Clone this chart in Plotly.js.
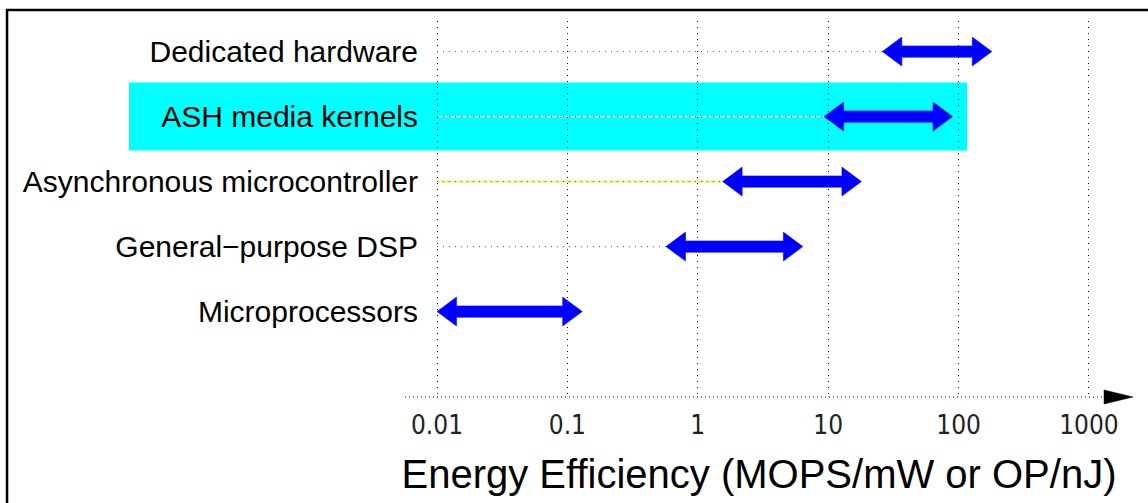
<!DOCTYPE html>
<html><head><meta charset="utf-8">
<script src="https://cdn.plot.ly/plotly-3.0.1.min.js"></script>
<style>html,body{margin:0;padding:0;background:#fff;overflow:hidden}</style>
</head><body>
<div id="chart" style="width:1148px;height:503px"></div>
<script>
// ---- data ----
const categories = ['Microprocessors', 'General\u2212purpose DSP', 'Asynchronous microcontroller', 'ASH media kernels', 'Dedicated hardware'];
const rangeLow  = [0.01, 0.57, 1.55, 9.3, 26];
const rangeHigh = [0.13, 6.4, 18, 90, 180];
const tickValues = [0.01, 0.1, 1, 10, 100, 1000];
const tickLabels = ['0.01', '0.1', '1', '10', '100', '1000'];
const axisTitle = 'Energy Efficiency (MOPS/mW or OP/nJ)';
const highlighted = 'ASH media kernels';
const yellowGuide = 'Asynchronous microcontroller';

// ---- styles ----
const HEAD_DEC = 0.15, HEAD_HALF = 0.223, SHAFT_HALF = 0.088;
const ARROW_COLOR = '#0000ff';

function arrowShape(lo, hi, yc) {
  const f = Math.pow(10, HEAD_DEC);
  const a = lo * f, b = hi / f;
  return {
    x: [lo, a, a, b, b, hi, b, b, a, a, lo],
    y: [yc, yc + HEAD_HALF, yc + SHAFT_HALF, yc + SHAFT_HALF, yc + HEAD_HALF, yc,
        yc - HEAD_HALF, yc - SHAFT_HALF, yc - SHAFT_HALF, yc - HEAD_HALF, yc]
  };
}

const traces = [];
const yIdx = categories.map((c, i) => i);
const xStart = tickValues[0];

categories.forEach((cat, i) => {
  if (rangeLow[i] > xStart) {
    if (cat === yellowGuide) {
      traces.push({type: 'scatter', mode: 'lines', x: [xStart, rangeLow[i]], y: [yIdx[i], yIdx[i]],
        line: {color: '#f2ee70', width: 2}, hoverinfo: 'skip', showlegend: false});
    }
    if (cat === highlighted) {
      traces.push({type: 'scatter', mode: 'lines', x: [xStart, rangeLow[i]], y: [yIdx[i], yIdx[i]],
        line: {color: '#ffffff', width: 1}, hoverinfo: 'skip', showlegend: false});
    }
    traces.push({type: 'scatter', mode: 'lines', x: [xStart, rangeLow[i]], y: [yIdx[i], yIdx[i]],
      line: {color: '#555555', width: 1, dash: '1px,5px'}, hoverinfo: 'skip', showlegend: false});
  }
});

categories.forEach((cat, i) => {
  const p = arrowShape(rangeLow[i], rangeHigh[i], yIdx[i]);
  traces.push({type: 'scatter', mode: 'lines', x: p.x, y: p.y, fill: 'toself',
    fillcolor: ARROW_COLOR, line: {color: ARROW_COLOR, width: 0.5},
    name: cat, hoverinfo: 'name', showlegend: false});
});

const hi = categories.indexOf(highlighted);

const layout = {
  width: 1148, height: 503,
  margin: {l: 425, r: 55, t: 21, b: 106, pad: 0},
  paper_bgcolor: '#ffffff', plot_bgcolor: 'rgba(0,0,0,0)',
  showlegend: false,
  xaxis: {
    type: 'log', range: [-2.092, 3.031],
    tickmode: 'array', tickvals: tickValues, ticktext: tickLabels,
    ticks: '', showline: false, zeroline: false,
    showgrid: true, gridcolor: '#000000', gridwidth: 1, griddash: '1px,5px',
    tickfont: {family: 'DejaVu Sans Condensed', size: 26, color: '#222222'},
    ticklabelstandoff: 10,
    title: {text: axisTitle, font: {family: 'Liberation Sans, Arial, sans-serif', size: 40, color: '#000000'}, standoff: 20},
    automargin: false, fixedrange: true
  },
  yaxis: {
    type: 'linear', range: [-1.314, 4.471],
    tickmode: 'array', tickvals: yIdx, ticktext: categories,
    ticks: '', showline: false, zeroline: false, showgrid: false,
    tickfont: {family: 'Liberation Sans, Arial, sans-serif', size: 30, color: '#000000'},
    ticklabelstandoff: 6,
    automargin: false, fixedrange: true
  },
  shapes: [
    // highlight band
    {type: 'rect', xref: 'paper', yref: 'y', x0: -0.4431, x1: 0.8114, y0: hi - 0.523, y1: hi + 0.523,
     fillcolor: '#00ffff', line: {width: 0}, layer: 'below'},
    // frame
    {type: 'path', xref: 'paper', yref: 'paper', path: 'M -0.6257,-0.40 L -0.6257,1.0293 L 1.30,1.0293',
     line: {color: '#000000', width: 2.5}},
    // dotted axis line
    {type: 'line', xref: 'paper', yref: 'paper', x0: -0.0299, x1: 1.0165, y0: 0, y1: 0,
     line: {color: '#000000', width: 1, dash: '1px,3px'}},
    // axis arrowhead
    {type: 'path', xref: 'paper', yref: 'paper', path: 'M 1.0165,0.0186 L 1.0599,0 L 1.0165,-0.0186 Z',
     fillcolor: '#000000', line: {color: '#000000', width: 0.5}}
  ]
};

Plotly.newPlot('chart', traces, layout, {staticPlot: true, displayModeBar: false});
</script>
</body></html>
